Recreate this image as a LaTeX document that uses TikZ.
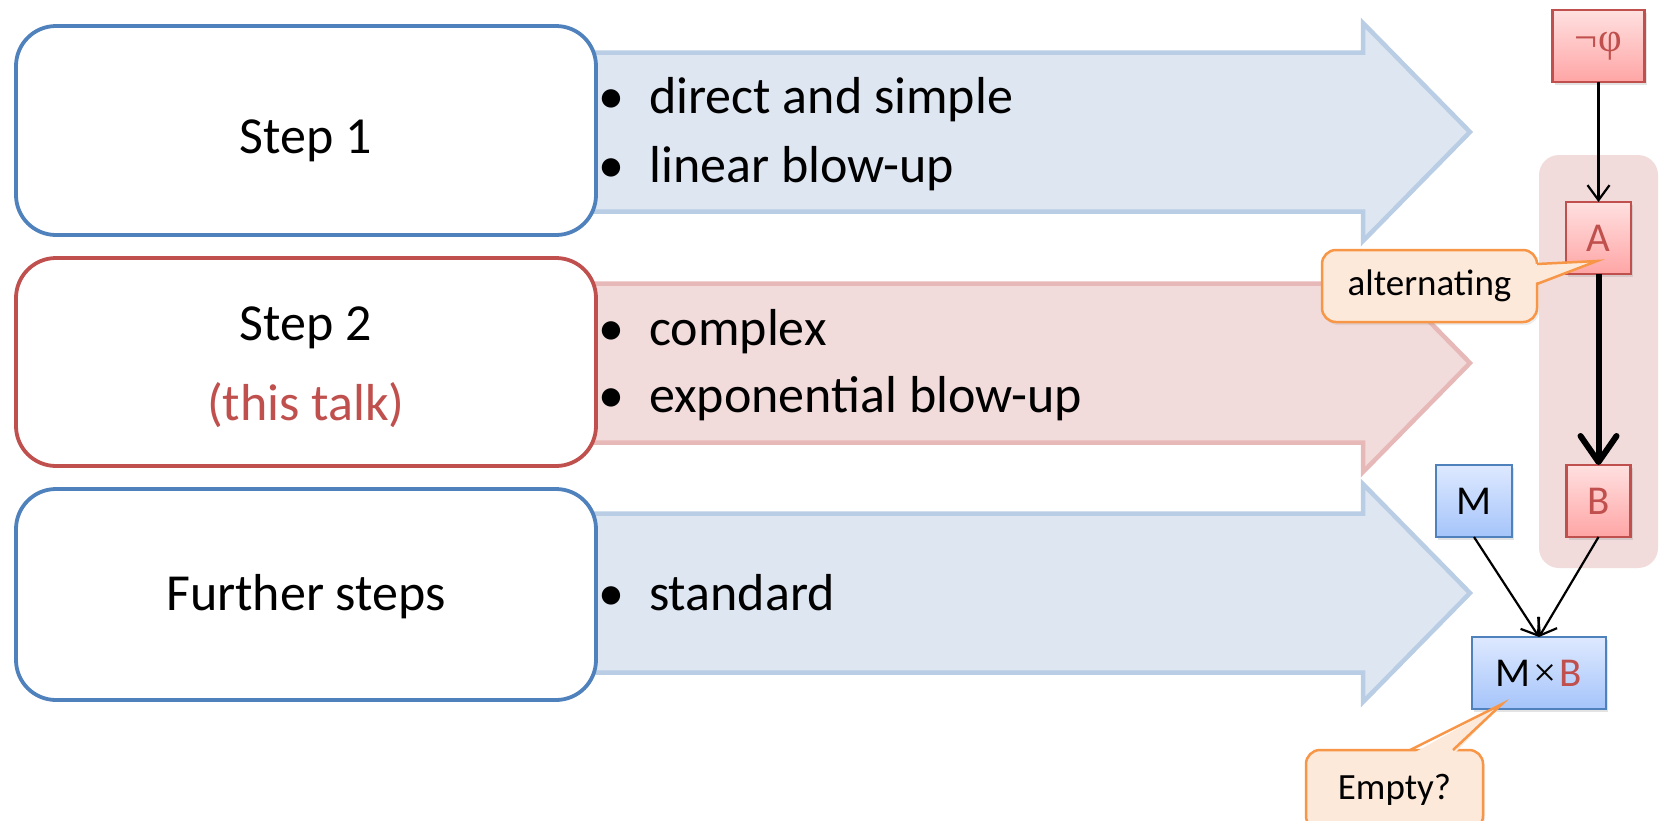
\documentclass[tikz,border=0pt]{standalone}
\usepackage{fontspec}
\setmainfont{Carlito}
\newfontfamily\symbfont{Liberation Serif}
\usetikzlibrary{arrows.meta,shadows,calc}

\definecolor{accblue}{RGB}{79,129,189}
\definecolor{accred}{RGB}{192,80,77}
\definecolor{arrblue}{RGB}{222,230,242}
\definecolor{arrblueline}{RGB}{185,205,229}
\definecolor{arrred}{RGB}{242,220,219}
\definecolor{arrredline}{RGB}{230,185,184}
\definecolor{grpfill}{RGB}{241,220,219}
\definecolor{calfill}{RGB}{253,233,217}
\definecolor{calline}{RGB}{247,150,70}
\definecolor{redtop}{RGB}{255,224,224}
\definecolor{redbot}{RGB}{255,165,165}
\definecolor{bluetop}{RGB}{222,233,255}
\definecolor{bluebot}{RGB}{165,196,250}

\tikzset{
  pics/blockarrow/.style={code={
    \path[pic actions] (0,-79.5) -- (803,-79.5) -- (803,-109) -- (910,0)
      -- (803,109) -- (803,79.5) -- (0,79.5) -- cycle;}},
  bluearrow/.style={draw=arrblueline, fill=arrblue, line width=4.5pt},
  redarrow/.style={draw=arrredline, fill=arrred, line width=4.5pt},
  stepbox/.style={draw, line width=3.8pt, rounded corners=40pt, fill=white,
    minimum width=580pt, inner sep=0pt, outer sep=0pt},
  bigfont/.style={font=\fontsize{52}{62}\selectfont},
  steptext/.style={bigfont, anchor=base, inner sep=0pt},
  bulletmark/.style={bigfont, anchor=base, inner sep=0pt},
  bullettext/.style={bigfont, anchor=base west, inner sep=0pt},
  smallbox/.style={draw, line width=2.5pt, minimum height=72pt, inner sep=0pt,
    outer sep=0pt, font=\fontsize{41}{48}\selectfont,
    drop shadow={shadow xshift=2pt, shadow yshift=-3pt, opacity=0.22}},
  redbox/.style={smallbox, draw=accred, top color=redtop, bottom color=redbot, text=accred},
  bluebox/.style={smallbox, draw=accblue, top color=bluetop, bottom color=bluebot, text=black},
  groupbox/.style={fill=grpfill, rounded corners=20pt, inner sep=0pt, outer sep=0pt},
  callout/.style={draw=calline, fill=calfill, line width=2.5pt, rounded corners=14pt,
    inner sep=0pt, outer sep=0pt, font=\fontsize{37}{44}\selectfont,
    drop shadow={shadow xshift=2pt, shadow yshift=-3pt, opacity=0.15}},
  thinarrow/.style={line width=2.2pt, -{Straight Barb[length=15pt,width=22pt]}},
  thickarrow/.style={line width=6pt, -{Straight Barb[length=26pt,width=36pt,round]}},
}

\begin{document}
\begin{tikzpicture}[x=1pt,y=-1pt]
\useasboundingbox (0,0) rectangle (1662,820);
\clip (0,0) rectangle (1662,820);

% block arrows behind the step boxes
\pic[bluearrow] at (560,132) {blockarrow};
\pic[redarrow]  at (560,363) {blockarrow};
\pic[bluearrow] at (560,593) {blockarrow};

% step boxes
\node[stepbox, draw=accblue, minimum height=209pt] (s1) at (306,130.5) {};
\node[stepbox, draw=accred,  minimum height=208pt] (s2) at (306,362) {};
\node[stepbox, draw=accblue, minimum height=211pt] (s3) at (306,594.5) {};

\node[steptext] (s1a) at ($(s1)+(0,22.5)$) {Step 1};
\node[steptext] (s2a) at ($(s2)+(0,-22)$) {Step 2};
\node[steptext, text=accred] (s2b) at ($(s2)+(0,58)$) {(this talk)};
\node[steptext] (s3a) at ($(s3)+(0,15.5)$) {Further steps};

% bullet lists
\node[bulletmark] (m11) at (611,113) {•};
\node[bullettext] (t11) at (649,113) {direct and simple};
\node[bulletmark] (m12) at (611,182) {•};
\node[bullettext] (t12) at (649,182) {linear blow-up};
\node[bulletmark] (m21) at (611,345) {•};
\node[bullettext] (t21) at (649,345) {complex};
\node[bulletmark] (m22) at (611,412) {•};
\node[bullettext] (t22) at (649,412) {exponential blow-up};
\node[bulletmark] (m31) at (611,610) {•};
\node[bullettext] (t31) at (649,610) {standard};

% automata chain
\node[groupbox, minimum width=119pt, minimum height=413pt] (grp) at (1598.5,361.5) {};
\node[redbox, minimum width=92pt] (neg) at (1598.5,46) {\symbfont ¬\kern1pt φ};
\node[redbox, minimum width=65pt] (A) at (1598.5,238) {A};
\node[redbox, minimum width=64pt] (B) at (1598.5,501) {B};
\node[bluebox, minimum width=76pt] (M) at (1474,501) {M};
\node[bluebox, minimum width=134pt] (MB) at (1539,673)
  {M\hspace{3pt}{\symbfont ×}\hspace{3pt}\textcolor{accred}{B}};

\draw[thinarrow] (neg.south) -- (A.north);
\draw[thickarrow] (A.south) -- (B.north);
\draw[thinarrow] (M.south) -- (MB.north);
\draw[thinarrow] (B.south) -- (MB.north);

% callouts
\node[callout, minimum width=215pt, minimum height=72pt] (alt) at (1429.5,286) {alternating};
\coordinate (altip) at (1597,261);
\fill[calfill] ($(alt.east)+(-5,-22)$) -- (altip) -- ($(alt.east)+(-5,-2)$) -- cycle;
\draw[calline, line width=2.5pt] ($(alt.east)+(0,-22)$) -- (altip) -- ($(alt.east)+(0,-2)$);

\node[callout, minimum width=177pt, minimum height=80pt] (emp) at (1394.5,790) {Empty?};
\coordinate (emptip) at (1502,704);
\fill[calfill] ($(emp.north)+(15.5,5)$) -- (emptip) -- ($(emp.north)+(58.5,5)$) -- cycle;
\draw[calline, line width=2.5pt] ($(emp.north)+(15.5,0)$) -- (emptip) -- ($(emp.north)+(58.5,0)$);
\end{tikzpicture}
\end{document}
